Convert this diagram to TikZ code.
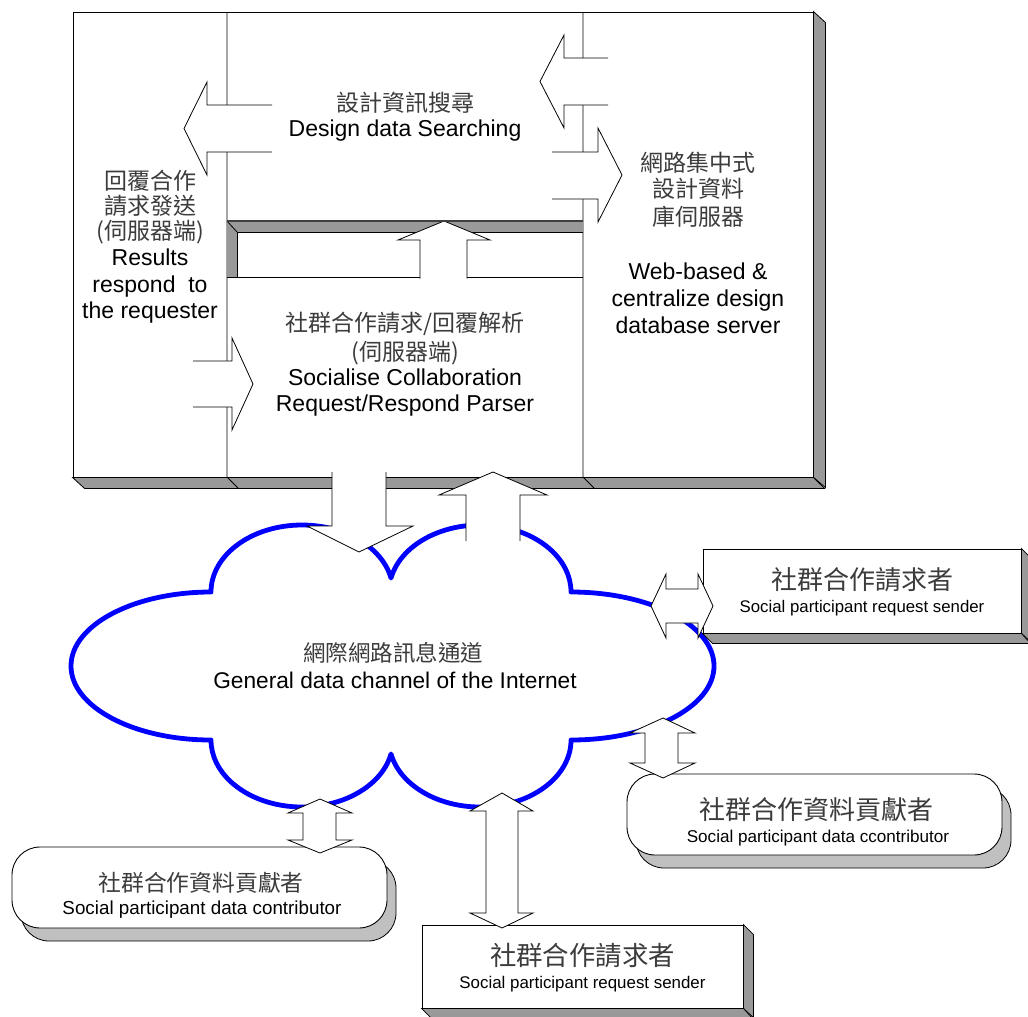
\documentclass[tikz,border=0pt]{standalone}
\usepackage{fontspec}
\setmainfont{Liberation Sans}
\newfontfamily\cjk{Noto Sans CJK TC}
\usetikzlibrary{shadows}
\definecolor{shd}{RGB}{153,153,153}
\definecolor{shdl}{RGB}{192,192,192}
\definecolor{cloudblue}{RGB}{0,0,255}
\definecolor{cjkgray}{RGB}{60,60,60}
\newcommand\blockarrow[1]{\fill[white] #1 -- cycle; \draw[thinln] #1;}
\begin{document}
\begin{tikzpicture}[x=1pt,y=-1pt,
  thinln/.style={draw=black,line width=0.8pt,line join=miter},
  face/.style={fill=shd,draw=black,line width=0.8pt},
  frontbox/.style={draw=black,fill=white,line width=0.9pt,inner sep=0pt},
  roundbox/.style={frontbox,rounded corners=28pt,drop shadow={shadow xshift=9pt,shadow yshift=-13pt,opacity=1,fill=shdl,draw=black,line width=0.8pt}},
  dblarrow/.style={draw=black,fill=white,line width=0.8pt},
  entext/.style={font=\fontsize{#1}{#1}\selectfont,anchor=base,inner sep=0pt},
  cjtext/.style={font=\cjk\fontsize{#1}{#1}\selectfont,anchor=base,inner sep=0pt,text=cjkgray},
]
\useasboundingbox (0,0) rectangle (1028,1017);
\fill[white] (0,0) rectangle (1028,1017);

% ---------- main server box ----------
\node[frontbox, minimum width=740pt, minimum height=465pt] (mainbox) at (443,244.5) {};
\draw[face] (mainbox.north east) -- ++(12,11) -- ++(0,465) -- (mainbox.south east) -- cycle;
\draw[face] (mainbox.south west) -- ++(12,11) -- ++(740,0) -- (mainbox.south east) -- cycle;
\draw[thinln] (227,12) -- (227,477) -- (238,488);
\draw[thinln] (583,12) -- (583,477) -- (594,488);

% recessed panel
\fill[shd] (227,221) -- (583,221) -- (583,232) -- (237,232) -- (237,277) -- (227,277) -- cycle;
\draw[thinln] (237,277) -- (237,232) -- (583,232);
\draw[thinln] (227,221) -- (237,232);
\draw[thinln] (227,277) -- (583,277);

% arrows inside main box
\blockarrow{(420,278.5) -- (420,240) -- (398,240) -- (444,221) -- (490,240) -- (467,240) -- (467,278.5)}
\draw[line width=1.6pt, black!75] (227,221) -- (583,221);
\blockarrow{(272,105) -- (207,105) -- (207,82) -- (184,128.5) -- (207,175) -- (207,152) -- (272,152)}
\blockarrow{(608,58) -- (564,58) -- (564,35) -- (540,81.5) -- (564,128) -- (564,105) -- (608,105)}
\blockarrow{(552,152) -- (598,152) -- (598,128) -- (622,175) -- (598,222) -- (598,199) -- (552,199)}
\blockarrow{(193,361) -- (232,361) -- (232,338) -- (253,384) -- (232,430) -- (232,407) -- (193,407)}

% ---------- cloud ----------
\draw[cloudblue, line width=4.8pt, fill=white, line join=round] (211,592)
  arc[start angle=180,end angle=12,x radius=91pt,y radius=67pt]
  arc[start angle=168,end angle=0,x radius=91pt,y radius=67pt]
  arc[start angle=90,end angle=-90,x radius=143pt,y radius=74pt]
  arc[start angle=0,end angle=-168,x radius=91pt,y radius=67pt]
  arc[start angle=-12,end angle=-180,x radius=91pt,y radius=67pt]
  arc[start angle=270,end angle=90,x radius=140pt,y radius=74pt] -- cycle;
\coordinate (cloud) at (391,666);

% ---------- participant boxes ----------
\node[frontbox, minimum width=318pt, minimum height=84pt] (reqTR) at (862,591) {};
\draw[face] (reqTR.north east) -- ++(10,10) -- ++(0,84) -- (reqTR.south east) -- cycle;
\draw[face] (reqTR.south west) -- ++(10,10) -- ++(318,0) -- (reqTR.south east) -- cycle;

\node[frontbox, minimum width=321pt, minimum height=83pt] (reqB) at (582.5,966.5) {};
\draw[face] (reqB.north east) -- ++(10,10) -- ++(0,83) -- (reqB.south east) -- cycle;
\draw[face] (reqB.south west) -- ++(10,10) -- ++(321,0) -- (reqB.south east) -- cycle;

\node[roundbox, minimum width=375pt, minimum height=81pt] (conL) at (199.5,887.5) {};
\node[roundbox, minimum width=375pt, minimum height=81pt] (conR) at (814.5,814.5) {};

% ---------- arrows between box and cloud ----------
\blockarrow{(332,472) -- (332,526) -- (307,526) -- (359,552) -- (413,526) -- (386,526) -- (386,472)}
\blockarrow{(466,541) -- (466,495) -- (439,495) -- (493,472) -- (547,495) -- (520,495) -- (520,541)}

% double arrows
\draw[dblarrow] (651,606) -- (666,574) -- (666,589) -- (698,589) -- (698,574) -- (713,606) -- (698,638) -- (698,623) -- (666,623) -- (666,638) -- cycle;
\draw[dblarrow] (320,799) -- (352,813) -- (336,813) -- (336,840) -- (352,840) -- (320,853) -- (288,840) -- (303,840) -- (303,813) -- (288,813) -- cycle;
\draw[dblarrow] (502,793) -- (533,811) -- (518,811) -- (518,913) -- (533,913) -- (502,928) -- (470,913) -- (486,913) -- (486,811) -- (470,811) -- cycle;
\draw[dblarrow] (663,718) -- (695,733) -- (678,733) -- (678,763) -- (695,763) -- (663,778) -- (630,763) -- (645,763) -- (645,733) -- (630,733) -- cycle;

% ---------- texts ----------
\node[cjtext=23] (tSearchC) at (405,111.5) {設計資訊搜尋};
\node[entext=23] (tSearchE) at (405,136) {Design data Searching};

\node[cjtext=23] (tRes1) at (150,189) {回覆合作};
\node[cjtext=23] (tRes2) at (150,214) {請求發送};
\node[cjtext=23] (tRes3) at (150,239) {(伺服器端)};
\node[entext=23] (tRes4) at (150,265) {Results};
\node[entext=23] (tRes5) at (150,292) {respond\ \ to};
\node[entext=23] (tRes6) at (150,318) {the requester};

\node[cjtext=23] (tPar1) at (405,331.5) {社群合作請求/回覆解析};
\node[cjtext=23] (tPar2) at (405,360.5) {(伺服器端)};
\node[entext=23] (tPar3) at (405,385) {Socialise Collaboration};
\node[entext=23] (tPar4) at (405,411) {Request/Respond Parser};

\node[cjtext=23] (tDb1) at (698,171.5) {網路集中式};
\node[cjtext=23] (tDb2) at (698,197.5) {設計資料};
\node[cjtext=23] (tDb3) at (698,225.5) {庫伺服器};
\node[entext=23] (tDb4) at (698,279) {Web-based \&};
\node[entext=23] (tDb5) at (698,306) {centralize design};
\node[entext=23] (tDb6) at (698,333) {database server};

\node[cjtext=22.5] (tCl1) at (393,661.3) {網際網路訊息通道};
\node[entext=22.7] (tCl2) at (395,688) {General data channel of the Internet};

\node[cjtext=26] (tTR1) at (862,589.6) {社群合作請求者};
\node[entext=16.8] (tTR2) at (862,612) {Social participant request sender};

\node[cjtext=26.4] (tB1) at (582.5,965.8) {社群合作請求者};
\node[entext=16.9] (tB2) at (582.5,988) {Social participant request sender};

\node[cjtext=26] (tCR1) at (816,819.6) {社群合作資料貢獻者};
\node[entext=17.1] (tCR2) at (818,842) {Social participant data ccontributor};

\node[cjtext=22.8] (tCL1) at (201,891.4) {社群合作資料貢獻者};
\node[entext=18.8] (tCL2) at (202,914) {Social participant data contributor};
\end{tikzpicture}
\end{document}
